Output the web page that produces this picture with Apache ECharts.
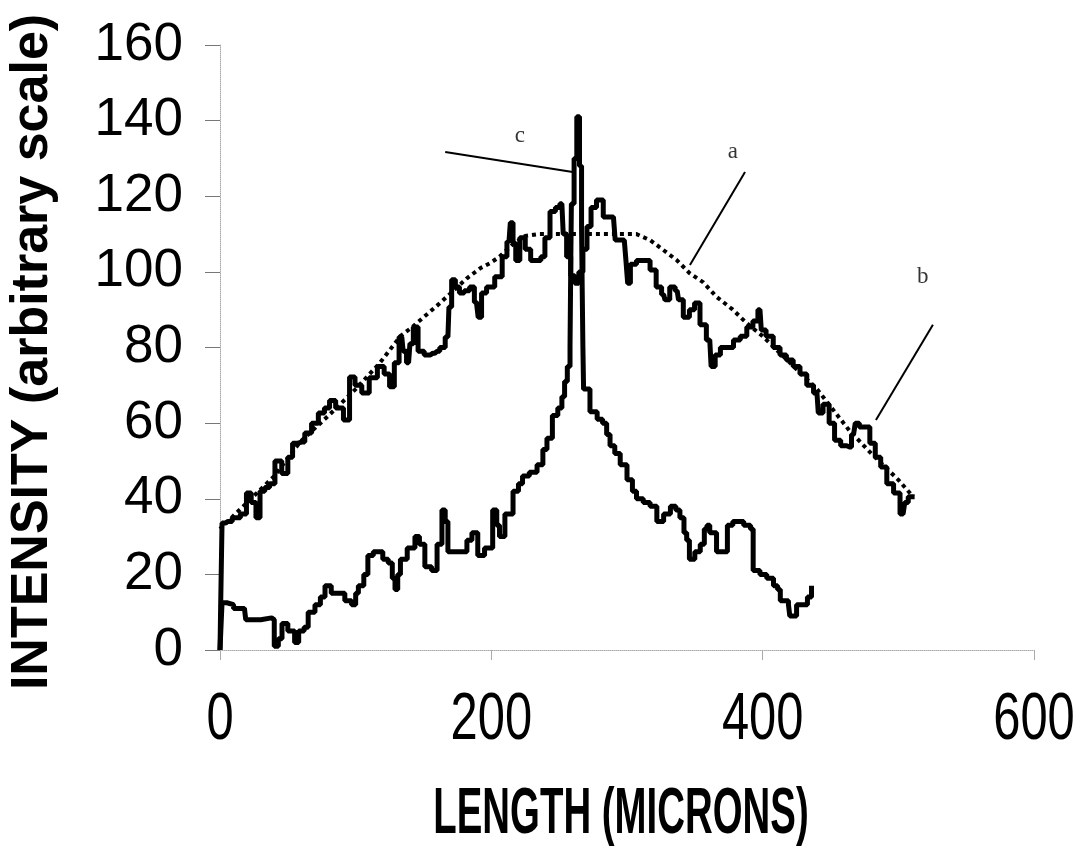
<!DOCTYPE html>
<html>
<head>
<meta charset="utf-8">
<script src="https://cdn.jsdelivr.net/npm/echarts@6/dist/echarts.min.js"></script>
<style>
html,body{margin:0;padding:0;background:#fff;}
#main{width:1083px;height:851px;}
</style>
</head>
<body>
<div id="main"></div>
<script>
// curve a : dotted envelope
var curveA = [[0,32],[20,39],[40,46],[59,55],[80,62],[100,69],[118,76],[133,83],[142,85.5],[152,88.6],[162,91.7],
	[172,95],[182,98.3],[192,101],[199,102.3],[206,104],[215,107],[225,109.5],[235,110],[250,110],[270,110],[293,110],
	[307,110],[317,108.4],[326,106],[337,103],[346,99.7],[356,97.3],[366,93.4],[378,90],[388,86.5],[400,83],[420,76],
	[440,69],[464,58],[480,52],[500,45],[511,40.5]];
// curve b : upper solid trace
var curveB = [[0,0],[1,12],[2,33.6],[6,34],[12,35],[18,36],[21,41.5],[25,39],[28,35],[31,42],[35,43],[38,44],[43,50],
	[48,46.7],[52,51],[55,54.7],[60,55],[65,57.4],[70,60],[75,62.7],[79,64],[82.5,66],[88,64],[94,60.8],[97,72.2],
	[102,70],[107,68],[113,72],[119,75],[123,73],[127,69.6],[130,76],[134,82.8],[136,79],[139,76],[141,81],[144,85.4],
	[148,79],[153,78],[157,78.5],[160,79],[164,80],[168,82.8],[169.5,90.7],[172,97.9],[175,96],[178,94.4],[182,95],
	[186,96],[189,92],[191.6,88],[194,94.4],[199,96],[206,98.7],[210,104],[213,108],[215,113],[217,107.6],[219,103],
	[223,109],[227,106],[231,103],[235,103],[238,104],[241,109],[245.5,116],[249,117],[252,118],[254,110],[257,104],
	[260,99],[263,97],[266,100],[269,106],[272,112],[275,117],[280,119],[285,114.5],[290,114.5],[292.6,108.4],
	[298,108.4],[300,104],[301,97],[304,102],[310,103],[315,103],[319,100.5],[324,96],[327,94],[329,92.6],[334,96],
	[337,95],[339,92.6],[344,88],[348,90],[351.6,91.8],[356,86],[361,82],[363,75],[367,78],[370.7,80],[376,80],
	[381,82],[386,83],[390.6,85.4],[395,87],[398,90],[400,84.6],[405,83],[410.6,80],[415,78],[420,76.7],[425,75],
	[430,73],[435,70],[440,68],[442,62.7],[447,65],[451,60],[455,55.5],[460,54],[464,53.7],[467,57],[469.5,60],
	[473,59],[477,59],[481,54.7],[485,51],[489,48.4],[494,44],[499,41.5],[503.5,36],[506,39],[508.6,40.5],[512,40.5]];
// curve c : lower trace with the spike
var curveC = [[0,0],[1,0],[1.5,12.5],[5,12],[10,11],[18,11.5],[19,8],[25,8],[30,8.5],[38,8],[40,1],[43,3],[45.7,7],
	[50,5],[55,2],[58,5],[62,6],[65,10],[70,12],[74,14],[77.4,17],[82,15],[87,15],[92,13],[97,12],[100,15],[102,17],
	[106,20],[109,25],[113,26],[116.5,26],[120,24],[124,23],[127,19],[129,16],[131,20],[133,24],[138,27],[143.7,30],
	[147,28],[151,22],[156,21],[160,28],[163.6,37],[166,34],[168,26],[173,26],[178,26],[182,29],[185.7,31],[190,25],
	[195,27],[201,37],[204,33],[206,30],[210,36],[216,42],[220,44],[223,46],[228,47],[233.7,49],[238,53],[241,56],
	[245,62],[249,64],[252,67],[254,71],[256,75],[258,80],[258.5,100],[259,118],[261,130],[263,141],[265,128],
	[266.5,112],[267,95],[267.5,80],[268,69],[272.7,63],[278,61],[282,60],[285,57],[287.5,54],[291,52],[295,49],
	[300,45],[304,42],[307,40],[312,39],[317,38],[322,34],[327,36],[332,38],[336,37],[339,35],[342,31],[344,29],
	[346,24],[350,26],[354,28],[357,32],[359,33],[361,31],[363,31],[366,26],[370,26],[372,26],[374,33],[378,34],
	[381,34],[386,33],[391,32],[393,21],[398,20],[403,19],[408,17],[411,16],[413,13],[419,12],[420,9],[425,12],
	[430,12],[433,14],[436,17]];
// leader lines and their letters
var leaderC = [[166,131.7],[260,126.4]];
var leaderA = [[387,126.4],[346.4,101.8]];
var leaderB = [[525.5,86],[483.5,60.8]];
var letters = [[221,136,'c'],[378,131.7,'a'],[518,98.6,'b']];
var xTicks = [0,200,400,600];
var yTicks = [0,20,40,60,80,100,120,140,160];
var xTitle = 'LENGTH (MICRONS)';
var yTitle = 'INTENSITY (arbitrary scale)';

var myChart = echarts.init(document.getElementById('main'));
function leader(d){
	return {type:'line',data:d,symbol:'none',silent:true,
		lineStyle:{color:'#000',width:2}};
}
var option = {
	backgroundColor:'#fff',
	animation:false,
	grid:{left:220,right:49,top:45,bottom:201},
	xAxis:{
		type:'value',min:0,max:600,interval:200,
		axisLine:{lineStyle:{color:'#aaa',type:'dotted',width:1}},
		axisTick:{show:true,length:10,lineStyle:{color:'#aaa'}},
		axisLabel:{show:false},
		splitLine:{show:false}
	},
	yAxis:{
		type:'value',min:0,max:160,interval:20,
		axisLine:{show:true,lineStyle:{color:'#aaa',type:'dotted',width:1}},
		axisTick:{show:true,length:15,lineStyle:{color:'#777'}},
		axisLabel:{margin:37,fontFamily:'Liberation Sans, Arial',fontSize:53,color:'#000',
			formatter:function(v){return yTicks.indexOf(v)>=0?v:'';}},
		splitLine:{show:false}
	},
	series:[
		{type:'line',name:'a',data:curveA,symbol:'none',
			lineStyle:{color:'#000',width:4,type:[4,4]}},
		{type:'line',name:'b',data:curveB,symbol:'none',step:'middle',
			lineStyle:{color:'#000',width:5}},
		{type:'line',name:'c',data:curveC,symbol:'none',step:'end',
			lineStyle:{color:'#000',width:5}},
		leader(leaderC),leader(leaderA),leader(leaderB),
		{type:'scatter',data:letters,symbolSize:0,silent:true,
			label:{show:true,position:'inside',color:'#000',fontFamily:'Liberation Serif, serif',fontSize:23,
				formatter:function(p){return p.data[2];}}}
	]
};
myChart.setOption(option);

// x tick labels and titles drawn narrow, like the scanned original
var g = [];
xTicks.forEach(function(v){
	var p = myChart.convertToPixel({gridIndex:0},[v,0]);
	g.push({type:'text',x:p[0],y:p[1]+71,scaleX:0.74,silent:true,
		style:{text:String(v),fontFamily:'Liberation Sans, Arial',fontSize:66,fill:'#000',
			align:'center',verticalAlign:'middle'}});
});
var mid = myChart.convertToPixel({gridIndex:0},[300,80]);
g.push({type:'text',x:mid[0]-6,y:815,scaleX:0.6,silent:true,
	style:{text:xTitle,fontFamily:'Liberation Sans, Arial',fontWeight:'bold',fontSize:64,fill:'#000',
		align:'center',verticalAlign:'middle'}});
g.push({type:'text',x:33,y:352,rotation:Math.PI/2,silent:true,
	style:{text:yTitle,fontFamily:'Liberation Sans, Arial',fontWeight:'bold',fontSize:52,fill:'#000',
		align:'center',verticalAlign:'middle'}});
myChart.setOption({graphic:g});
</script>
</body>
</html>
